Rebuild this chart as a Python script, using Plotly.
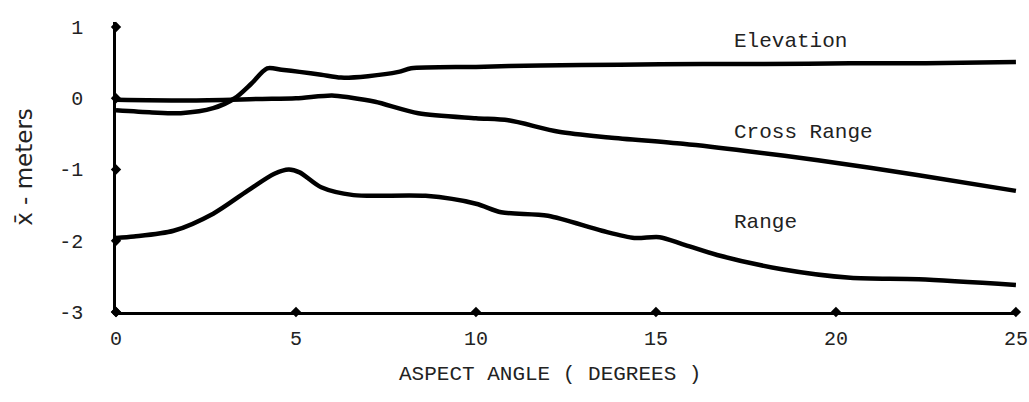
import plotly.graph_objects as go

# ---- data ----
x_ticks = [0, 5, 10, 15, 20, 25]
y_ticks = [-3, -2, -1, 0, 1]

elev_x = [0, 1, 1.8, 2.7, 3.3, 3.75, 4.2, 4.6, 5.1, 5.7, 6.25, 7, 7.85, 8.2, 10, 11.8, 14, 16.3, 18, 20.4, 22.5, 25]
elev_y = [-0.17, -0.2, -0.21, -0.14, 0.0, 0.2, 0.42, 0.4, 0.37, 0.33, 0.29, 0.31, 0.37, 0.42, 0.44, 0.46, 0.47, 0.48, 0.48, 0.49, 0.49, 0.51]

cross_x = [0, 2, 4, 5, 6, 6.5, 7.2, 8.4, 10, 10.9, 12.3, 13.7, 15.75, 17.5, 19.5, 22.3, 25]
cross_y = [-0.02, -0.03, -0.01, 0.0, 0.04, 0.01, -0.05, -0.21, -0.28, -0.31, -0.47, -0.55, -0.64, -0.74, -0.87, -1.08, -1.3]

range_x = [0, 0.5, 1.6, 2.7, 3.65, 4.4, 4.8, 5.1, 5.7, 6.6, 8.6, 10, 10.7, 12, 13.5, 14.4, 15.1, 15.75, 16.7, 18.5, 20.4, 22.3, 25]
range_y = [-1.96, -1.94, -1.86, -1.62, -1.3, -1.06, -1.0, -1.04, -1.25, -1.36, -1.37, -1.48, -1.6, -1.65, -1.86, -1.96, -1.95, -2.05, -2.2, -2.4, -2.52, -2.54, -2.62]

labels = ["Elevation", "Cross Range", "Range"]
label_x = [17.1, 17.1, 17.1]
label_y = [0.8, -0.48, -1.74]

MONO = "Liberation Mono, Courier New, monospace"

fig = go.Figure()
for xs, ys in [(elev_x, elev_y), (cross_x, cross_y), (range_x, range_y)]:
    fig.add_trace(go.Scatter(x=xs, y=ys, mode="lines",
                             line=dict(color="black", width=4.5, shape="spline", smoothing=0.8),
                             showlegend=False, hoverinfo="skip"))

# tick dots on the axes
fig.add_trace(go.Scatter(x=x_ticks, y=[y_ticks[0]] * len(x_ticks), mode="markers",
                         marker=dict(symbol="diamond", size=8, color="black"),
                         cliponaxis=False, showlegend=False, hoverinfo="skip"))
fig.add_trace(go.Scatter(x=[x_ticks[0]] * len(y_ticks), y=y_ticks, mode="markers",
                         marker=dict(symbol="diamond", size=8, color="black"),
                         cliponaxis=False, showlegend=False, hoverinfo="skip"))

for t, lx, ly in zip(labels, label_x, label_y):
    fig.add_annotation(x=lx, y=ly, text=t, showarrow=False, xanchor="left", yanchor="middle",
                       font=dict(family=MONO, size=21, color="#222"))

fig.add_annotation(x=0.482, y=-0.217, xref="paper", yref="paper", yanchor="middle",
                   text="ASPECT ANGLE ( DEGREES )", showarrow=False,
                   font=dict(family=MONO, size=21, color="#222"))

fig.update_layout(
    width=1029, height=402,
    margin=dict(l=116, r=12, t=22, b=90, autoexpand=False),
    plot_bgcolor="white", paper_bgcolor="white",
    xaxis=dict(range=[0, 25.03], tickvals=x_ticks, ticktext=[str(v) for v in x_ticks],
               showgrid=False, zeroline=False, showline=True, linecolor="black", linewidth=2.5,
               ticks="", ticklabelstandoff=6, automargin=False,
               tickfont=dict(family=MONO, size=20, color="#222")),
    yaxis=dict(range=[-3, 1.07], tickvals=y_ticks, ticktext=[str(v) for v in y_ticks],
               showgrid=False, zeroline=False, showline=True, linecolor="black", linewidth=2.5,
               ticks="", ticklabelstandoff=26, automargin=False,
               tickfont=dict(family=MONO, size=20, color="#222"),
               title=dict(text="x\u0304 - meters", standoff=21,
                          font=dict(family="DejaVu Sans", size=23, color="#222"))),
)

fig.write_html("out.html", config={"displayModeBar": False},
               post_script="document.body.style.margin='0';document.body.style.overflow='hidden';")
